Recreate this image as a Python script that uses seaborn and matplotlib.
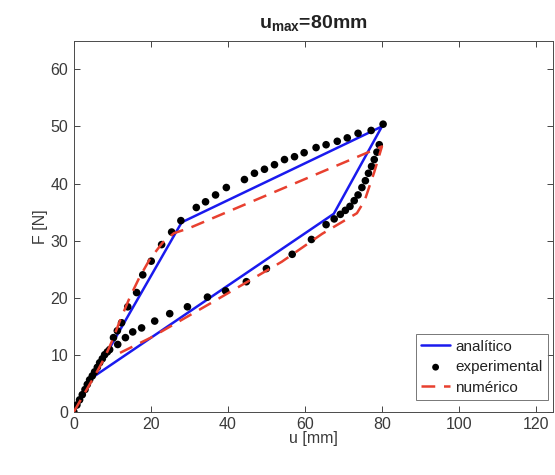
import matplotlib
matplotlib.use("Agg")
import matplotlib.pyplot as plt
import seaborn as sns
import pandas as pd

# ---- data ----
u_analitico = [0, 5, 28, 80, 67.5, 5]
F_analitico = [0, 6.1, 33.2, 50, 34.7, 6.1]

u_experimental = [0, 0.8, 1.5, 2.2, 2.9, 3.5, 4.1, 4.8, 5.4, 6.1, 6.7, 7.4, 8.0, 8.7, 9.3,
                  10.3, 11.3, 12.4, 14.0, 16.3, 17.9, 20.1, 22.8, 25.4, 27.8, 31.8, 34.2,
                  36.8, 39.6, 44.3, 46.9, 49.5, 52.1, 54.7, 57.3, 59.8, 62.9, 65.5, 68.4,
                  71.0, 73.8, 77.2, 80.3,
                  79.3, 78.7, 78.0, 77.3, 76.5, 75.7, 74.8, 73.8, 72.8, 71.7, 70.5, 69.2,
                  67.6, 65.5, 61.7, 56.7, 50.0, 44.8, 39.4, 34.7, 29.5, 24.9, 21.0, 17.6,
                  15.3, 13.4, 11.4]
F_experimental = [0, 1.2, 2.1, 3.0, 3.9, 4.8, 5.6, 6.3, 7.0, 7.8, 8.6, 9.3, 10.0, 10.5, 10.9,
                  13.0, 14.2, 15.6, 18.4, 20.9, 24.0, 26.4, 29.3, 31.5, 33.5, 35.8, 36.8,
                  38.0, 39.3, 40.7, 41.8, 42.5, 43.3, 44.2, 44.7, 45.4, 46.3, 46.8, 47.4,
                  48.0, 48.8, 49.3, 50.4,
                  46.8, 45.5, 44.2, 43.0, 41.8, 40.5, 39.3, 38.0, 37.0, 36.0, 35.3, 34.6,
                  33.8, 32.8, 30.2, 27.6, 25.1, 22.8, 21.2, 20.1, 18.4, 17.2, 15.9, 14.7,
                  14.0, 13.0, 11.8]

u_numerico = [0, 3, 6, 8, 10, 12, 14.5, 17, 19.7, 23, 26, 30, 80, 78, 75.5, 73.5,
              64.5, 54, 37, 20, 11]
F_numerico = [0, 3.5, 7, 9.5, 12.5, 16, 20, 23.5, 26.7, 29.6, 31.3, 32.2, 46.5, 42, 37,
              34.8, 31.2, 26.3, 19.6, 13.0, 10.0]

labels = ["analítico", "experimental", "numérico"]
x_ticks = [0, 20, 40, 60, 80, 100, 120]
y_ticks = [0, 10, 20, 30, 40, 50, 60]

# ---- style ----
sns.set_style("ticks")
plt.rcParams["font.family"] = ["Liberation Sans", "DejaVu Sans"]
plt.rcParams["mathtext.fontset"] = "custom"
plt.rcParams["mathtext.rm"] = "Liberation Sans"
plt.rcParams["mathtext.bf"] = "Liberation Sans:bold"

fig = plt.figure(figsize=(5.55, 4.75), dpi=100)
ax = fig.add_axes([0.133, 0.133, 0.864, 0.781])

df_a = pd.DataFrame({"u": u_analitico, "F": F_analitico})
df_e = pd.DataFrame({"u": u_experimental, "F": F_experimental})
df_n = pd.DataFrame({"u": u_numerico, "F": F_numerico})

sns.lineplot(data=df_a, x="u", y="F", sort=False, estimator=None, ax=ax,
             color="#1a1aee", linewidth=1.8, label=labels[0])
sns.scatterplot(data=df_e, x="u", y="F", ax=ax, color="black", s=30,
                edgecolor="none", label=labels[1], zorder=3)
sns.lineplot(data=df_n, x="u", y="F", sort=False, estimator=None, ax=ax,
             color="#e8402f", linewidth=1.8, label=labels[2], zorder=4)
ax.lines[-1].set_dashes([5.5, 3.5])

ax.set_xlim(0, 124.5)
ax.set_ylim(0, 65)
ax.set_xticks(x_ticks)
ax.set_yticks(y_ticks)
ax.tick_params(direction="in", top=True, right=True, length=4, width=0.6,
               labelsize=11.5, colors="#262626", labelcolor="#3a3a3a", pad=4)
for s in ax.spines.values():
    s.set_visible(True)
    s.set_linewidth(0.7)
    s.set_color("#4a4a4a")

ax.set_xlabel("u [mm]", fontsize=11.5, color="#3a3a3a", labelpad=-1)
ax.set_ylabel("F [N]", fontsize=11.5, color="#3a3a3a", labelpad=2)
ax.set_title(r"u$_{\mathbf{max}}$=80mm", fontsize=14, fontweight="bold",
             color="#222222", pad=9)

leg = ax.legend(loc="lower right", bbox_to_anchor=(0.989, 0.032), fontsize=11,
                frameon=True, fancybox=False, borderpad=0.35, labelspacing=0.42,
                handlelength=1.9, handletextpad=0.35, borderaxespad=0.0,
                markerscale=0.9)
leg.get_frame().set_edgecolor("#555555")
leg.get_frame().set_linewidth(0.7)
for t in leg.get_texts():
    t.set_color("#222222")

fig.savefig("out.png", dpi=100)
